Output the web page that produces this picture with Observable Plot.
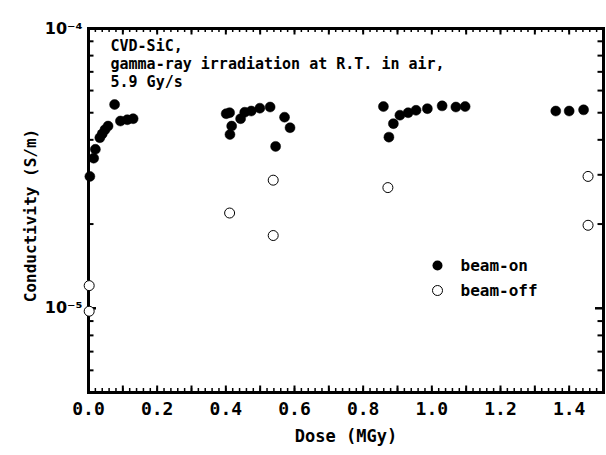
<!DOCTYPE html>
<html>
<head>
<meta charset="utf-8">
<script src="https://cdn.jsdelivr.net/npm/d3@7"></script>
<script src="https://cdn.jsdelivr.net/npm/@observablehq/plot@0.6"></script>
<style>
  html, body { margin: 0; padding: 0; background: #fff; }
  #chart svg { display: block; }
</style>
</head>
<body>
<div id="chart"></div>
<script>
// Beam-on (filled circles): dose (MGy), conductivity (S/m)
const onDose = [0.004, 0.015, 0.020, 0.033, 0.040, 0.048, 0.057, 0.076, 0.093, 0.113, 0.130,
  0.401, 0.411, 0.417, 0.412, 0.443, 0.455, 0.474, 0.499, 0.529, 0.571, 0.587, 0.545,
  0.859, 0.875, 0.888, 0.907, 0.931, 0.954, 0.987, 1.030, 1.070, 1.097,
  1.361, 1.400, 1.442];
const onCond = [2.96e-5, 3.44e-5, 3.70e-5, 4.07e-5, 4.20e-5, 4.35e-5, 4.48e-5, 5.35e-5, 4.67e-5, 4.72e-5, 4.76e-5,
  4.96e-5, 5.00e-5, 4.48e-5, 4.18e-5, 4.76e-5, 5.02e-5, 5.07e-5, 5.19e-5, 5.24e-5, 4.82e-5, 4.42e-5, 3.79e-5,
  5.26e-5, 4.09e-5, 4.57e-5, 4.90e-5, 5.00e-5, 5.10e-5, 5.17e-5, 5.29e-5, 5.24e-5, 5.26e-5,
  5.07e-5, 5.07e-5, 5.12e-5];
// Beam-off (open circles)
const offDose = [0.002, 0.002, 0.411, 0.538, 0.538, 0.872, 1.455, 1.455];
const offCond = [1.205e-5, 0.976e-5, 2.19e-5, 2.87e-5, 1.82e-5, 2.70e-5, 2.96e-5, 1.98e-5];

const annotation = "CVD-SiC,\ngamma-ray irradiation at R.T. in air,\n5.9 Gy/s";
const legendLabels = ["beam-on", "beam-off"];
const xLabel = "Dose (MGy)";
const yLabel = "Conductivity (S/m)";
const xTickLabels = [0, 0.2, 0.4, 0.6, 0.8, 1.0, 1.2, 1.4];
const yMajor = [1e-5, 1e-4];
const yMinor = [6e-6, 7e-6, 8e-6, 9e-6, 2e-5, 3e-5, 4e-5, 5e-5, 6e-5, 7e-5, 8e-5, 9e-5];

const onData = onDose.map((d, i) => ({x: d, y: onCond[i]}));
const offData = offDose.map((d, i) => ({x: d, y: offCond[i]}));

const xMinor = d3.range(0, 1.5001, 0.02).map(v => +v.toFixed(2));
const xMajor = d3.range(0, 1.5001, 0.1).map(v => +v.toFixed(1));

const W = 606, H = 455, mL = 88, mR = 3, mT = 28, mB = 63;
const plotW = W - mL - mR, plotH = H - mT - mB;

const mono = "'DejaVu Sans Mono', 'Liberation Mono', monospace";
const supers = {"-": "⁻", "0": "⁰", "1": "¹", "2": "²", "3": "³", "4": "⁴", "5": "⁵", "6": "⁶", "7": "⁷", "8": "⁸", "9": "⁹"};
const pow10 = v => "10" + String(Math.round(Math.log10(v))).split("").map(c => supers[c]).join("");

const tickLen = {xMinor: 4, xMajor: 6.5, yMinor: 5.5, yMajor: 8};

const chart = Plot.plot({
  width: W,
  height: H,
  marginLeft: mL,
  marginRight: mR,
  marginTop: mT,
  marginBottom: mB,
  style: {fontFamily: mono, background: "#fff", color: "#000"},
  x: {domain: [0, 1.5], label: null, axis: null},
  y: {type: "log", domain: [5e-6, 1e-4], label: null, axis: null},
  marks: [
    // bottom ticks (inward)
    Plot.tickX(xMinor, {x: d => d, insetTop: plotH - tickLen.xMinor, stroke: "#000", strokeWidth: 1.5}),
    Plot.tickX(xMajor, {x: d => d, insetTop: plotH - tickLen.xMajor, stroke: "#000", strokeWidth: 2}),
    // top ticks (inward)
    Plot.tickX(xMinor, {x: d => d, insetBottom: plotH - tickLen.xMinor, stroke: "#000", strokeWidth: 1.5}),
    Plot.tickX(xMajor, {x: d => d, insetBottom: plotH - tickLen.xMajor, stroke: "#000", strokeWidth: 2}),
    // left ticks
    Plot.tickY(yMinor, {y: d => d, insetRight: plotW - tickLen.yMinor, stroke: "#000", strokeWidth: 2}),
    Plot.tickY(yMajor, {y: d => d, insetRight: plotW - tickLen.yMajor, stroke: "#000", strokeWidth: 2.5}),
    // right ticks
    Plot.tickY(yMinor, {y: d => d, insetLeft: plotW - tickLen.yMinor, stroke: "#000", strokeWidth: 2}),
    Plot.tickY(yMajor, {y: d => d, insetLeft: plotW - tickLen.yMajor, stroke: "#000", strokeWidth: 2.5}),
    // tick labels
    Plot.axisX({anchor: "bottom", ticks: xTickLabels, tickSize: 0, tickPadding: 10,
      tickFormat: d => d.toFixed(1), fontSize: 18, fontWeight: "bold", label: null}),
    Plot.axisY({anchor: "left", ticks: yMajor, tickSize: 0, tickPadding: 6, tickFormat: pow10, label: null,
      fontSize: 16, fontWeight: "bold", fontFamily: "'DejaVu Sans', 'Liberation Sans', sans-serif"}),
    Plot.frame({stroke: "#000", strokeWidth: 3}),
    // axis titles
    Plot.text([xLabel], {frameAnchor: "bottom", dy: 49, fontSize: 17, fontWeight: "bold"}),
    Plot.text([yLabel], {frameAnchor: "left", dx: -58, dy: 5, rotate: -90, textAnchor: "middle", fontSize: 16, fontWeight: "bold"}),
    // annotation
    Plot.text([annotation], {frameAnchor: "top-left", dx: 22, dy: 10, textAnchor: "start", lineAnchor: "top",
      lineHeight: 1.2, fontSize: 15, fontWeight: "bold"}),
    // data
    Plot.dot(offData, {x: "x", y: "y", r: 5, fill: "#fff", stroke: "#000", strokeWidth: 1}),
    Plot.dot(onData, {x: "x", y: "y", r: 5, fill: "#000", stroke: "#000", strokeWidth: 0.5}),
    // legend
    Plot.dot([legendLabels[0]], {frameAnchor: "top-left", dx: 349, dy: 237, r: 5, fill: "#000"}),
    Plot.dot([legendLabels[1]], {frameAnchor: "top-left", dx: 349, dy: 262, r: 5, fill: "#fff", stroke: "#000", strokeWidth: 1}),
    Plot.text([legendLabels[0]], {frameAnchor: "top-left", dx: 372, dy: 237, textAnchor: "start", lineAnchor: "middle", fontSize: 16, fontWeight: "bold"}),
    Plot.text([legendLabels[1]], {frameAnchor: "top-left", dx: 372, dy: 262, textAnchor: "start", lineAnchor: "middle", fontSize: 16, fontWeight: "bold"})
  ]
});
document.getElementById("chart").appendChild(chart);
</script>
</body>
</html>
